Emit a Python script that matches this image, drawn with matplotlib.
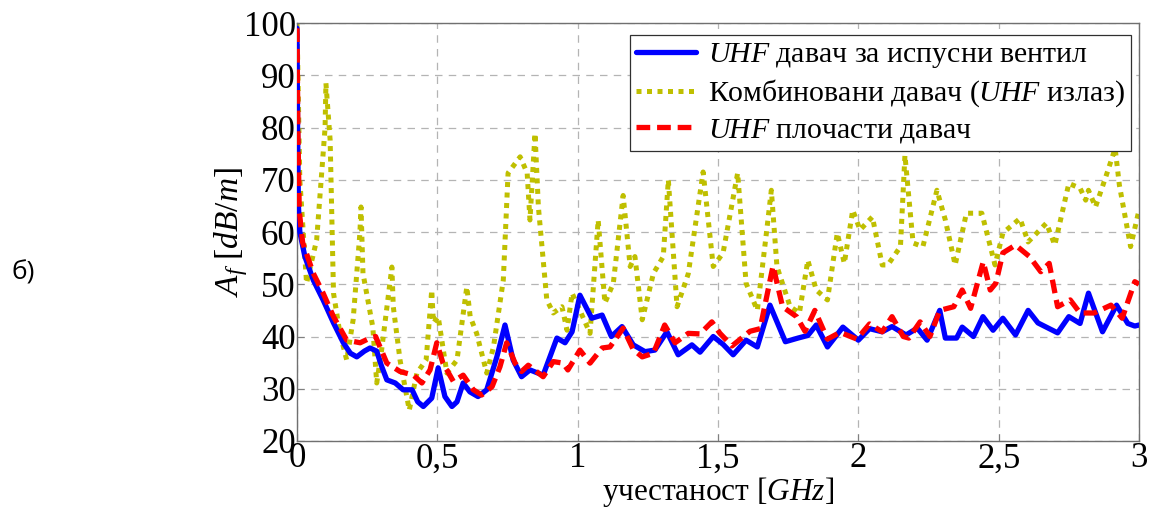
import matplotlib
matplotlib.use("Agg")
import matplotlib.pyplot as plt

plt.rcParams['mathtext.fontset'] = 'custom'
plt.rcParams['mathtext.it'] = 'Liberation Serif:italic'
plt.rcParams['mathtext.rm'] = 'Liberation Serif'

# UHF давач за испусни вентил
f_ventil = [0.000, 0.002, 0.005, 0.010, 0.028, 0.058, 0.093, 0.13, 0.165, 0.19, 0.213, 0.24, 0.26,
            0.284, 0.30, 0.32, 0.35, 0.378, 0.41, 0.43, 0.45, 0.48, 0.503, 0.527, 0.552, 0.57,
            0.592, 0.616, 0.645, 0.676, 0.712, 0.741, 0.77, 0.80, 0.83, 0.877, 0.926, 0.955,
            0.98, 1.008, 1.05, 1.087, 1.12, 1.158, 1.198, 1.24, 1.275, 1.318, 1.358, 1.407,
            1.436, 1.483, 1.518, 1.554, 1.60, 1.64, 1.685, 1.74, 1.785, 1.82, 1.85, 1.89,
            1.945, 2.0, 2.04, 2.085, 2.12, 2.17, 2.21, 2.245, 2.29, 2.31, 2.35, 2.37, 2.41,
            2.444, 2.48, 2.515, 2.56, 2.605, 2.64, 2.71, 2.75, 2.79, 2.82, 2.87, 2.92, 2.96,
            2.985, 3.0]
a_ventil = [99, 80, 65, 60, 55.3, 50.8, 47, 42.6, 38.8, 36.8, 36.1, 37.2, 37.8,
            37.2, 34.5, 31.7, 31.1, 29.8, 29.8, 27.5, 26.6, 28.2, 34, 28.5, 26.6, 27.5,
            31.1, 29.4, 28.5, 29.8, 36.1, 42.2, 35.5, 32.3, 33.6, 32.6, 39.7, 38.8,
            40.9, 47.9, 43.5, 44.1, 40, 41.9, 38.4, 37.1, 37.4, 40.9, 36.5, 38.4,
            37, 40, 38.5, 36.5, 39.3, 38, 46, 39, 39.7, 40.2, 42.2, 38,
            41.8, 39.3, 41.5, 40.9, 41.9, 40.3, 41.6, 39.3, 45, 39.7, 39.7, 41.8, 40,
            43.8, 41.2, 43.5, 40.3, 45, 42.6, 40.7, 43.8, 42.5, 48.3, 40.9, 46, 42.5,
            42, 42.2]

# Комбиновани давач (UHF излаз)
f_komb = [0.000, 0.01, 0.034, 0.07, 0.1, 0.103, 0.118, 0.13, 0.153, 0.177, 0.2, 0.224, 0.228,
          0.235, 0.27, 0.284, 0.30, 0.338, 0.343, 0.367, 0.40, 0.427, 0.46, 0.48, 0.486,
          0.503, 0.534, 0.57, 0.605, 0.617, 0.64, 0.676, 0.70, 0.735, 0.752, 0.795, 0.82,
          0.83, 0.848, 0.86, 0.89, 0.913, 0.944, 0.962, 0.98, 1.008, 1.044, 1.073, 1.097,
          1.127, 1.162, 1.187, 1.204, 1.23, 1.27, 1.305, 1.323, 1.354, 1.394, 1.447, 1.483,
          1.518, 1.57, 1.60, 1.64, 1.675, 1.69, 1.71, 1.757, 1.79, 1.82, 1.85, 1.89, 1.925,
          1.95, 1.98, 2.006, 2.05, 2.085, 2.105, 2.15, 2.166, 2.195, 2.23, 2.28, 2.31, 2.345,
          2.385, 2.44, 2.487, 2.515, 2.576, 2.605, 2.67, 2.70, 2.75, 2.79, 2.81, 2.82, 2.845,
          2.88, 2.915, 2.93, 2.97, 3.0]
a_komb = [100, 70, 50.2, 58.5, 80, 88.5, 77.6, 48.3, 40.6, 35.5, 43.2, 59.8, 64.8,
          52.1, 41.8, 31.1, 36.8, 53.3, 45.7, 35.5, 25.9, 33, 35.5, 48.9, 42.6,
          43.8, 33, 35.5, 49.5, 43.8, 40.6, 33, 38, 50.8, 71.3, 74.4, 71.3,
          62.3, 78.9, 64.8, 47, 44.5, 45.7, 41.2, 48.3, 45, 40.6, 62.3, 46.4,
          50.2, 67, 53.4, 55.3, 43.2, 52.1, 55.3, 70, 45.7, 52, 71.5, 53.4,
          56, 71.3, 50.2, 45, 61, 68, 53.4, 45.7, 44.5, 54.6, 48.9, 47, 59.8,
          54, 64.2, 60.4, 62.9, 53.7, 53.7, 57.2, 74.7, 57.9, 57.2, 68, 62.3, 53.7,
          63.6, 63.6, 53.7, 59.8, 62.6, 58.1, 61.7, 57.5, 69.3, 68.4, 66.1, 68, 64.8,
          70.3, 76, 69, 57.2, 64.2]

# UHF плочасти давач
f_ploc = [0.000, 0.003, 0.008, 0.02, 0.058, 0.093, 0.13, 0.177, 0.225, 0.26, 0.28, 0.32, 0.367,
          0.415, 0.445, 0.474, 0.498, 0.52, 0.557, 0.592, 0.628, 0.658, 0.695, 0.723, 0.747,
          0.777, 0.80, 0.824, 0.877, 0.913, 0.948, 0.965, 1.008, 1.044, 1.087, 1.115, 1.162,
          1.198, 1.23, 1.27, 1.31, 1.347, 1.394, 1.436, 1.478, 1.507, 1.55, 1.614, 1.65,
          1.696, 1.73, 1.78, 1.81, 1.845, 1.89, 1.935, 1.995, 2.04, 2.085, 2.12, 2.16, 2.18,
          2.22, 2.255, 2.29, 2.34, 2.37, 2.40, 2.445, 2.47, 2.49, 2.515, 2.56, 2.61, 2.65,
          2.68, 2.71, 2.755, 2.79, 2.84, 2.90, 2.94, 2.985, 3.0]
a_ploc = [99, 80, 64, 58, 52.1, 48.3, 43.8, 39.3, 38.8, 39.7, 40, 34.9, 33.3,
          32.6, 31.1, 33.6, 38.8, 34.9, 31.4, 32.6, 29.8, 28.8, 30.4, 34.2, 38.8,
          34.9, 33.3, 34.5, 32.3, 35.2, 34.9, 33.6, 37.4, 34.9, 37.8, 38, 41.6,
          37.5, 36.1, 36.8, 42.2, 38.8, 40.6, 40.5, 42.8, 40.6, 38.2, 41, 41.5,
          53.5, 45.7, 43.8, 41, 45, 39.5, 40.8, 39.5, 42.4, 40.9, 43.8, 40, 39.7,
          42.8, 40, 45, 45.7, 48.9, 45.4, 54.3, 48.9, 50.2, 56, 57.5, 55.3, 52.4,
          54, 45.7, 47, 44.5, 44.5, 46, 43.5, 50.5, 50]

xticks = [0, 0.5, 1, 1.5, 2, 2.5, 3]
xticklabels = ['0', '0,5', '1', '1,5', '2', '2,5', '3']
yticks = [20, 30, 40, 50, 60, 70, 80, 90, 100]

fig = plt.figure(figsize=(11.49, 5.13), dpi=100)
ax = fig.add_axes([0.2585, 0.1404, 0.7328, 0.8146])

ax.plot(f_ventil, a_ventil, color='#0000ff', lw=3.8, solid_joinstyle='round',
        solid_capstyle='round', label=r'$\mathit{UHF}$ давач за испусни вентил', zorder=3)
ax.plot(f_komb, a_komb, color='#bfbf00', lw=3.6, linestyle=(0, (1.0, 1.1)),
        dash_capstyle='butt', label=r'Комбиновани давач ($\mathit{UHF}$ излаз)', zorder=2)
ax.plot(f_ploc, a_ploc, color='#ff0000', lw=3.8, linestyle=(0, (2.6, 1.3)),
        dash_capstyle='butt', label=r'$\mathit{UHF}$ плочасти давач', zorder=4)

ax.set_xlim(0, 3)
ax.set_ylim(20, 100)
ax.set_xticks(xticks)
ax.set_xticklabels(xticklabels)
ax.set_yticks(yticks)
ax.tick_params(direction='in', length=5, width=0.8, color='#808080', labelsize=25, pad=1)
for lab in ax.get_xticklabels() + ax.get_yticklabels():
    lab.set_family('Liberation Serif')
ax.grid(True, color='#b4b4b4', linestyle=(0, (6, 5)), linewidth=0.9)
for s in ax.spines.values():
    s.set_color('#707070')
    s.set_linewidth(1.0)

ax.set_xlabel(r'учестаност [$\mathit{GHz}$]', fontsize=22.5, family='Liberation Serif', labelpad=0)
ax.set_ylabel(r'$A_f\ [dB/m]$', fontsize=24, family='Liberation Serif', labelpad=-5)

leg = ax.legend(loc='upper right', bbox_to_anchor=(0.9975, 0.985),
                prop={'family': 'Liberation Serif', 'size': 21.5}, fancybox=False,
                framealpha=1, edgecolor='#303030', handlelength=2.0, handletextpad=0.4,
                borderpad=0.2, labelspacing=0.25, borderaxespad=0.2)
leg.get_frame().set_linewidth(0.9)

fig.text(0.010, 0.455, 'б)', fontsize=19, family='Open Sans')

fig.savefig('out.png', dpi=100)
